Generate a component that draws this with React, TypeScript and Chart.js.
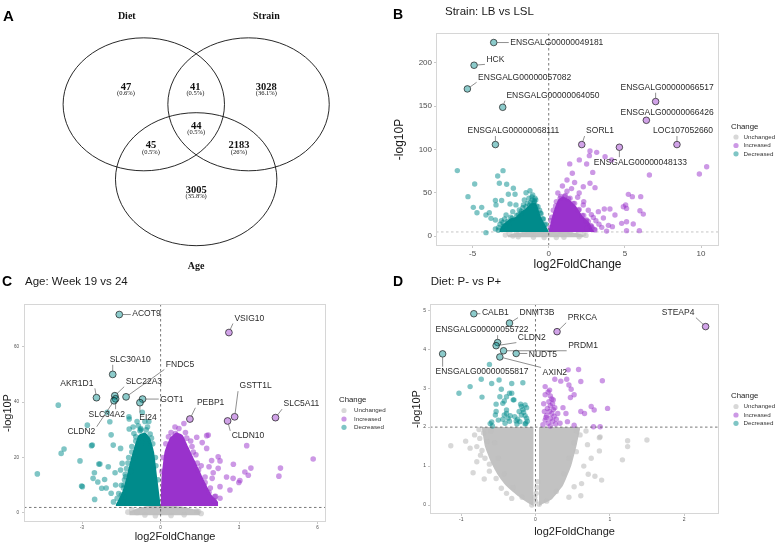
import React, { useEffect, useRef } from 'react';
import { Chart, registerables } from 'chart.js';
Chart.register(...registerables);

type Pt = [number, number];
const SANS = '"Liberation Sans", Arial, Helvetica, sans-serif';
const SERIF = '"Liberation Serif", "Times New Roman", serif';

// ---------------- Panel A : Venn ----------------
const VENN_SETS = ['Diet', 'Strain', 'Age'];
const VENN_COUNTS = [47, 41, 3028, 44, 45, 2183, 3005];
const VENN_PCTS = ['(0.6%)', '(0.5%)', '(36.1%)', '(0.5%)', '(0.5%)', '(26%)', '(35.8%)'];
// geometry in unit space
const VENN_CX = [-0.649, 0.649, 0];
const VENN_CY = [0.563, 0.563, -0.563];
const VENN_R = 1;
const VENN_REGION_X = [-0.87, -0.01, 0.87, 0, -0.56, 0.53, 0];
const VENN_REGION_Y = [0.82, 0.82, 0.82, 0.24, -0.06, -0.06, -0.73];
const VENN_SET_LX = [-0.86, 0.87, 0];
const VENN_SET_LY = [1.88, 1.88, -1.87];

// ---------------- Panel B : Strain ----------------
const B_XTICKS = [-5, 0, 5, 10];
const B_YTICKS = [0, 50, 100, 150, 200];
const B_THRESHOLD = 5;
const B_GREY: Pt[] = [[-2.85, 1.5], [-2.6, 3.2], [-2.35, 0.4], [-2.1, 4.6], [-1.6, 5.6], [-1.0, 6.2], [-0.4, 6.8], [0.3, 7], [0.8, 6], [1.4, 5], [1.95, 4.2], [2.3, 2.6], [2.45, 1.0], [2.0, -0.5], [1.0, -1.2], [-1.0, -1.2], [-2.0, -0.6], [-0.3, -1.5], [0.5, -1.4]];
const B_GREY_CORE: Pt[] = [[-2.7, 1.5], [-2.2, 3.6], [-1.2, 5.2], [0, 6.2], [1.0, 5.2], [1.8, 3.8], [2.3, 1.5]];
const B_DEC: Pt[] = [[-6.0, 75.8], [-4.86, 60.3], [-5.30, 45.7], [-4.95, 33.4], [-4.71, 27.2], [-4.40, 33.4], [-4.12, 24.6], [-3.90, 27.2], [-3.35, 69.6], [-3.00, 75.7], [-3.24, 61.1], [-2.76, 60.0], [-2.32, 55.4], [-2.65, 48.5], [-2.21, 48.5], [-3.50, 41.2], [-3.09, 41.2], [-3.46, 36.2], [-2.54, 37.3], [-2.15, 36.2], [-1.93, 30.4], [-1.49, 50.3], [-1.23, 52.6], [-1.05, 47.6], [-0.94, 39.9], [-1.60, 41.8], [-1.66, 36.2], [-4.12, 4.2], [-3.50, 8.4], [-3.79, 20.7], [-3.50, 18.8], [-3.11, 18.0], [-2.80, 24.6], [-2.36, 28.4], [-1.82, 26.5], [-1.3, 44], [-1.1, 42], [-0.9, 44], [-0.8, 35], [-0.6, 30], [-0.5, 26], [-0.35, 20], [-0.2, 14], [-1.4, 38], [-1.7, 33], [-2.0, 25], [-2.5, 22], [-2.9, 20], [-3.2, 14], [-3.3, 10], [-2.9, 12], [-2.6, 15], [-3.0, 16], [-1.25, 36], [-1.0, 38], [-3.3, 7], [-3.0, 12], [-2.7, 17], [-2.4, 21], [-2.1, 24], [-1.8, 29], [-1.5, 34], [-1.2, 39], [-0.95, 41], [-0.7, 34], [-0.55, 27], [-0.4, 20], [-0.25, 13], [-1.1, 45.5], [-0.85, 42]];
const B_DEC_CORE: Pt[] = [[-3.25, 6], [-3.13, 11], [-2.8, 16.8], [-2.48, 20.7], [-2.15, 22.6], [-1.82, 28.4], [-1.49, 32.3], [-1.16, 38], [-0.83, 38], [-0.51, 22.6], [0, 6]];
const B_INC: Pt[] = [[2.71, 98.4], [3.15, 96.8], [2.67, 93.0], [3.70, 91.8], [4.13, 88], [2.49, 83.4], [2.89, 73.7], [6.61, 70.7], [9.89, 71.9], [10.37, 80.3], [2.71, 61.1], [3.04, 56.1], [2.27, 57.2], [5.23, 48.4], [5.49, 45.7], [6.04, 45.7], [4.90, 34.1], [5.05, 36.1], [5.11, 32.2], [5.99, 29.5], [6.21, 25.6], [4.02, 31.4], [3.65, 31.4], [4.35, 24.5], [3.26, 28.4], [2.93, 21.8], [3.59, 21.1], [4.79, 14.9], [5.11, 16.8], [5.55, 14.1], [3.92, 12.6], [4.18, 11.1], [5.11, 6.5], [5.95, 6.5], [3.48, 10.3], [3.04, 7.2], [2.49, 18.8], [2.27, 36.1], [1.38, 83.5], [2.01, 88.1], [1.55, 72.7], [1.2, 65], [1.7, 62], [1.5, 55], [0.9, 58], [1.2, 52], [2.0, 50], [0.6, 50], [1.9, 45], [2.3, 40], [2.6, 30], [2.8, 25], [3.1, 18], [3.3, 14], [2.8, 12], [2.5, 9], [3.8, 6], [0.3, 30], [0.5, 40], [0.8, 46], [1.1, 47], [1.4, 44], [1.7, 38], [2.0, 31], [2.3, 24], [2.6, 17], [2.85, 10], [0.15, 18], [0.1, 10], [0.2, 22], [0.45, 35], [0.75, 44], [1.05, 46], [1.3, 43], [1.6, 38], [1.95, 30], [2.2, 24], [2.45, 18], [2.75, 12], [3.0, 8]];
const B_INC_CORE: Pt[] = [[0, 6], [0.28, 26.5], [0.61, 41.9], [0.94, 45.8], [1.38, 41.9], [1.82, 34.2], [2.25, 22.7], [2.69, 15], [2.91, 7.3], [3.0, 6]];
const B_LAB_NAMES = ['ENSGALG00000049181', 'HCK', 'ENSGALG00000057082', 'ENSGALG00000064050', 'ENSGALG00000068111', 'SORL1', 'ENSGALG00000048133', 'ENSGALG00000066517', 'ENSGALG00000066426', 'LOC107052660'];
const B_LAB_X = [-3.61, -4.90, -5.34, -3.02, -3.50, 2.17, 4.64, 7.02, 6.41, 8.42];
const B_LAB_Y = [223.5, 197.3, 170.0, 148.8, 105.8, 105.8, 102.7, 155.4, 133.8, 105.8];
const B_LAB_CHANGE = ['Decreased', 'Decreased', 'Decreased', 'Decreased', 'Decreased', 'Increased', 'Increased', 'Increased', 'Increased', 'Increased'];
const B_TXT_X = [0.53, -3.50, -1.58, 0.28, -2.32, 3.37, 6.02, 7.77, 7.77, 8.82];
const B_TXT_Y = [223.5, 204.2, 183.5, 162.3, 121.5, 121.5, 85.4, 171.5, 143.1, 121.5];

// ---------------- Panel C : Age ----------------
const C_XTICKS = [-3, 0, 3, 6];
const C_YTICKS = [0, 20, 40, 60];
const C_THRESHOLD = 2;
const C_GREY: Pt[] = [[-1.25, 0.3], [-1.1, 1.2], [1.45, 0.5], [1.55, -0.2], [0.9, -0.6], [-0.6, -0.7], [1.38, 0.7], [-0.9, 0.2], [0.4, -0.9], [-0.2, -1.0]];
const C_GREY_CORE: Pt[] = [[-1.2, 0.5], [-0.8, 2], [0, 3], [0.8, 2.3], [1.5, 0.8]];
const C_DEC: Pt[] = [[-3.91, 38.9], [-3.69, 23.1], [-3.80, 21.5], [-4.71, 14.1], [-3.08, 18.8], [-3.02, 9.7], [-2.61, 24.5], [-2.80, 31.7], [-2.32, 17.7], [-1.89, 28.2], [-1.81, 24.5], [-1.53, 23.3], [-2.53, 14.5], [-2.58, 12.5], [-2.40, 11.2], [-2.14, 12.1], [-2.08, 9.0], [-2.25, 8.9], [-2.99, 9.5], [-2.52, 4.9], [-1.74, 14.5], [-1.72, 10.1], [-1.66, 5.3], [-1.89, 7.1], [-1.40, 5.9], [-1.40, 10.1], [-1.34, 13.1], [-1.21, 34.7], [-0.90, 33.0], [-1.02, 28.7], [-0.76, 30.5], [-1.47, 17.9], [-1.53, 15.5], [-2.04, 36.3], [-1.94, 32.9], [-1.20, 33.9], [-1.20, 30.3], [-0.79, 29.7], [-0.70, 36.3], [-2.0, 16.7], [-2.64, 24.3], [-2.36, 17.7], [-0.5, 31], [-0.35, 27], [-0.2, 20], [-0.1, 12], [-0.95, 26], [-1.1, 22], [-1.25, 18], [-1.35, 14], [-1.5, 10], [-1.6, 7], [-1.8, 4], [-0.7, 27], [-0.55, 25], [-1.0, 20], [-1.15, 15], [-0.45, 33], [-0.85, 31.5], [-1.45, 4], [-1.5, 6.5], [-1.42, 9], [-1.38, 12], [-1.3, 16], [-1.22, 20], [-1.1, 24], [-0.95, 27.5], [-0.75, 30], [-0.55, 30], [-0.4, 28.5], [-0.3, 25], [-0.18, 17], [-1.05, 31], [-0.6, 33]];
const C_DEC_CORE: Pt[] = [[-1.72, 3], [-1.6, 5], [-1.45, 8], [-1.3, 13], [-1.15, 19], [-1.0, 24], [-0.85, 28], [-0.6, 29], [-0.4, 27], [-0.25, 22], [-0.12, 12], [0, 3]];
const C_INC: Pt[] = [[0.89, 32.3], [0.57, 28.7], [1.82, 28.1], [1.38, 27.3], [1.59, 25.4], [1.76, 23.3], [3.29, 24.3], [5.83, 19.5], [1.95, 18.9], [2.27, 18.8], [2.20, 20.3], [2.78, 17.6], [1.85, 16.7], [2.20, 16.1], [3.45, 16.2], [3.22, 14.8], [3.35, 13.6], [4.58, 16.2], [4.52, 13.3], [2.01, 14.5], [2.52, 13.0], [2.77, 12.5], [3.03, 11.7], [2.99, 11.0], [1.97, 12.5], [2.27, 9.5], [2.65, 8.3], [2.07, 5.9], [2.27, 5.3], [1.76, 27.9], [1.15, 26], [1.35, 21], [1.55, 17], [1.7, 13], [1.9, 9], [2.1, 6], [1.2, 24], [0.95, 29], [0.4, 29], [0.2, 25], [0.05, 15], [1.65, 10], [1.4, 18], [0.1, 20], [0.3, 27.5], [0.7, 30.5], [1.0, 27], [1.25, 22], [1.45, 15.5], [1.7, 11], [1.85, 7.5], [2.05, 4.5], [0.55, 31]];
const C_INC_CORE: Pt[] = [[0, 3], [0.03, 12], [0.15, 22], [0.35, 27], [0.6, 29], [0.85, 28], [1.05, 24], [1.3, 19], [1.55, 14], [1.75, 10], [1.95, 6.5], [2.2, 4]];
const C_LAB_NAMES = ['ACOT9', 'VSIG10', 'SLC30A10', 'FNDC5', 'AKR1D1', 'SLC22A3', 'GOT1', 'EI24', 'SLC34A2', 'CLDN2', 'PEBP1', 'GSTT1L', 'CLDN10', 'SLC5A11'];
const C_LAB_X = [-1.58, 2.61, -1.83, -1.32, -2.45, -1.75, -0.69, -0.79, -1.72, -1.78, 1.12, 2.83, 2.56, 4.39];
const C_LAB_Y = [71.6, 65.1, 50.0, 41.9, 41.6, 42.3, 41.1, 39.8, 41.2, 40.5, 33.9, 34.7, 33.2, 34.4];
const C_LAB_CHANGE = ['Decreased', 'Increased', 'Decreased', 'Decreased', 'Decreased', 'Decreased', 'Decreased', 'Decreased', 'Decreased', 'Decreased', 'Increased', 'Increased', 'Increased', 'Increased'];
const C_TXT_X = [-0.54, 3.39, -1.16, 0.74, -3.20, -0.64, 0.43, -0.48, -2.06, -3.03, 1.91, 3.63, 3.34, 5.38];
const C_TXT_Y = [71.8, 70.2, 55.3, 53.6, 46.8, 47.4, 41.0, 34.4, 35.6, 29.3, 39.8, 45.8, 27.8, 39.3];

// ---------------- Panel D : Diet ----------------
const D_XTICKS = [-1, 0, 1, 2];
const D_YTICKS = [0, 1, 2, 3, 4, 5];
const D_THRESHOLD = 2;
const D_GREY: Pt[] = [[-1.14, 1.52], [-0.94, 1.64], [-0.84, 0.83], [-0.76, 1.94], [-0.82, 1.80], [-0.88, 1.46], [-0.79, 1.50], [-0.74, 1.28], [-0.68, 1.20], [-0.62, 0.87], [-0.69, 0.67], [-0.53, 0.68], [-0.46, 0.43], [-0.39, 0.30], [-0.32, 0.17], [-0.65, 1.63], [-0.75, 1.71], [-0.79, 1.11], [0.86, 1.73], [1.24, 1.65], [1.50, 1.67], [1.24, 1.50], [1.17, 1.16], [0.89, 0.64], [0.61, 0.24], [0.80, 0.74], [0.71, 0.79], [0.52, 0.47], [0.55, 1.37], [0.87, 1.75], [0.86, 1.39], [0.65, 1.0], [0.6, 1.8], [0.7, 1.55], [0.62, 0.55], [0.45, 0.2], [0.68, 1.9], [0.75, 1.2], [-0.6, 1.9], [-0.55, 1.6], [-0.5, 1.2], [-0.42, 0.8], [-0.3, 0.45], [-0.18, 0.2], [-0.05, 0.0], [-0.7, 1.85], [-0.72, 1.4], [-0.62, 1.05], [0.55, 1.9], [0.52, 1.6], [0.45, 1.2], [0.38, 0.8], [0.28, 0.35], [0.15, 0.1], [0.05, 0.02], [0.0, 0.1], [0.01, 0.3], [0.02, 0.45], [-0.01, 0.2], [0.03, 0.6]];
const D_GREY_CORE_LEFT: Pt[] = [[-0.72, 1.95], [-0.68, 1.5], [-0.6, 1.1], [-0.5, 0.75], [-0.4, 0.5], [-0.25, 0.25], [-0.1, 0.05], [-0.025, -0.03]];
const D_GREY_CORE_RIGHT: Pt[] = [[0.045, -0.03], [0.1, 0.03], [0.22, 0.15], [0.37, 0.5], [0.48, 1.0], [0.55, 1.5], [0.6, 1.95]];
const D_DEC: Pt[] = [[-1.03, 2.87], [-0.88, 3.04], [-0.73, 3.23], [-0.62, 3.61], [-0.59, 3.12], [-0.49, 3.21], [-0.32, 3.12], [-0.17, 3.14], [-0.72, 2.77], [-0.53, 2.59], [-0.42, 2.67], [-0.32, 2.87], [-0.29, 2.70], [-0.20, 2.59], [-0.19, 2.53], [-0.14, 2.57], [-0.53, 2.40], [-0.54, 2.31], [-0.59, 2.13], [-0.61, 2.09], [-0.42, 2.31], [-0.39, 2.44], [-0.34, 2.29], [-0.26, 2.16], [-0.21, 2.14], [-0.14, 2.29], [-0.13, 2.10], [-0.41, 2.10], [-0.50, 2.18], [-0.39, 2.35], [-0.37, 2.23], [-0.28, 2.27], [-0.19, 2.31], [-0.12, 2.23], [-0.25, 2.08], [-0.14, 2.08], [-0.44, 2.61], [-0.48, 2.78], [-0.39, 2.78], [-0.35, 2.87], [-0.46, 2.97], [-0.30, 2.70], [-0.17, 2.45], [-0.22, 2.40], [-0.16, 2.38], [-0.12, 2.50], [-0.35, 2.15], [-0.44, 2.20], [-0.58, 2.03], [-0.24, 2.2], [-0.11, 2.15]];
const D_INC: Pt[] = [[0.44, 3.47], [0.58, 3.48], [0.26, 3.23], [0.34, 3.18], [0.42, 3.23], [0.61, 3.17], [0.90, 3.19], [0.13, 3.04], [0.19, 2.95], [0.45, 3.08], [0.48, 2.97], [0.52, 2.83], [0.47, 2.76], [0.13, 2.83], [0.75, 2.53], [0.61, 2.40], [0.66, 2.35], [0.79, 2.44], [0.97, 2.48], [0.41, 2.35], [0.43, 2.14], [0.52, 2.05], [0.78, 2.01], [0.87, 2.01], [0.17, 2.9], [0.2, 2.8], [0.22, 2.72], [0.18, 2.65], [0.23, 2.6], [0.2, 2.55], [0.16, 2.48], [0.24, 2.45], [0.19, 2.4], [0.22, 2.35], [0.15, 2.3], [0.25, 2.28], [0.2, 2.22], [0.13, 2.18], [0.23, 2.15], [0.17, 2.1], [0.27, 2.08], [0.1, 2.06], [0.2, 2.03], [0.14, 2.25], [0.26, 2.5], [0.12, 2.4], [0.24, 2.7], [0.28, 2.2], [0.3, 2.35], [0.33, 2.1], [0.11, 2.6], [0.37, 2.5]];
const D_LAB_NAMES = ['CALB1', 'DNMT3B', 'PRKCA', 'STEAP4', 'ENSGALG00000055722', 'CLDN2', 'PRDM1', 'NUDT5', 'AXIN2', 'ENSGALG00000055817'];
const D_LAB_X = [-0.83, -0.35, 0.29, 2.29, -0.51, -0.53, -0.43, -0.26, -0.48, -1.25];
const D_LAB_Y = [4.91, 4.67, 4.45, 4.58, 4.17, 4.09, 3.96, 3.89, 3.80, 3.88];
const D_LAB_CHANGE = ['Decreased', 'Decreased', 'Increased', 'Increased', 'Decreased', 'Decreased', 'Decreased', 'Decreased', 'Decreased', 'Decreased'];
const D_TXT_X = [-0.54, 0.02, 0.63, 1.92, -0.72, -0.05, 0.64, 0.10, 0.26, -0.72];
const D_TXT_Y = [4.94, 4.94, 4.81, 4.94, 4.49, 4.30, 4.08, 3.85, 3.40, 3.42];

// ---------------- styles ----------------
const TEAL = 'rgba(0,139,139,0.5)';
const TEAL_CORE = 'rgb(0,139,139)';
const PURP = 'rgba(153,50,204,0.5)';
const PURP_CORE = 'rgb(153,50,204)';
const GREY = 'rgba(190,190,190,0.6)';
const GREY_CORE = 'rgb(194,194,194)';
const TEAL_LAB = 'rgba(0,139,139,0.45)';
const PURP_LAB = 'rgba(153,50,204,0.45)';

const xy = (a: Pt[]) => a.map(([x, y]) => ({ x, y }));

function makeVenn(canvas: HTMLCanvasElement) {
  const plugin = {
    id: 'venn',
    afterDraw(chart: any) {
      const { ctx } = chart;
      const x = chart.scales.x, y = chart.scales.y;
      ctx.save();
      ctx.fillStyle = '#000';
      ctx.font = `bold 15px ${SANS}`;
      ctx.textAlign = 'left';
      ctx.textBaseline = 'middle';
      ctx.fillText('A', 3, 17);
      ctx.strokeStyle = '#111';
      ctx.lineWidth = 0.9;
      VENN_CX.forEach((cx, i) => {
        const px = x.getPixelForValue(cx), py = y.getPixelForValue(VENN_CY[i]);
        const rx = Math.abs(x.getPixelForValue(cx + VENN_R) - px);
        const ry = Math.abs(y.getPixelForValue(VENN_CY[i] + VENN_R) - py);
        ctx.beginPath();
        ctx.ellipse(px, py, rx, ry, 0, 0, Math.PI * 2);
        ctx.stroke();
      });
      ctx.textAlign = 'center';
      ctx.fillStyle = '#111';
      ctx.font = `bold 10px ${SERIF}`;
      VENN_SETS.forEach((s, i) => ctx.fillText(s, x.getPixelForValue(VENN_SET_LX[i]), y.getPixelForValue(VENN_SET_LY[i])));
      VENN_COUNTS.forEach((n, i) => {
        const px = x.getPixelForValue(VENN_REGION_X[i]), py = y.getPixelForValue(VENN_REGION_Y[i]);
        ctx.font = `bold 10.5px ${SERIF}`;
        ctx.fillText(String(n), px, py);
        ctx.font = `6.5px ${SERIF}`;
        ctx.fillText(VENN_PCTS[i], px, py + 6.5);
      });
      ctx.restore();
    },
  };
  return new Chart(canvas, {
    type: 'scatter',
    data: { datasets: [] },
    options: {
      animation: false, responsive: false, events: [],
      layout: { padding: 0 },
      plugins: { legend: { display: false }, tooltip: { enabled: false } },
      scales: {
        x: { type: 'linear', display: false, min: -2.431, max: 2.402 },
        y: { type: 'linear', display: false, min: -2.004, max: 2.132 },
      },
    } as any,
    plugins: [plugin],
  });
}

function makeVolcano(canvas: HTMLCanvasElement, p: any) {
  const idx = p.names.map((_: any, i: number) => i);
  const decIdx = idx.filter((i: number) => p.change[i] === 'Decreased');
  const incIdx = idx.filter((i: number) => p.change[i] === 'Increased');
  const labPts = (ids: number[]) => ids.map((i) => ({ x: p.px[i], y: p.py[i] }));
  const scatter = (data: any[], color: string, order: number, r: number, border = false) => ({
    type: 'scatter', data, order, showLine: false,
    pointRadius: r, pointHoverRadius: r, pointBackgroundColor: color,
    pointBorderColor: border ? '#1a1a1a' : 'rgba(0,0,0,0)', pointBorderWidth: border ? 0.7 : 0,
  });
  const core = (data: any[], base: number, color: string, order: number) => ({
    type: 'line', data, order, showLine: true, fill: { value: base },
    backgroundColor: color, borderColor: 'rgba(0,0,0,0)', borderWidth: 0, pointRadius: 0, tension: 0.15,
  });
  const datasets: any[] = [
    scatter(labPts(incIdx), PURP_LAB, 0, p.r + 0.6, true),
    scatter(labPts(decIdx), TEAL_LAB, 1, p.r + 0.6, true),
    scatter(xy(p.inc), PURP, 2, p.r),
    core(xy(p.incCore), p.incBase, PURP_CORE, 3),
    scatter(xy(p.dec), TEAL, 4, p.r),
    core(xy(p.decCore), p.decBase, TEAL_CORE, 5),
    scatter(xy(p.grey), GREY, 6, p.r),
    ...p.greyCores.map((c: Pt[], k: number) => core(xy(c), p.greyBase, GREY_CORE, 7 + k)),
  ];

  const hLine = (chart: any) => {
    const { ctx, chartArea: a } = chart;
    const yy = chart.scales.y.getPixelForValue(p.hline);
    ctx.save();
    ctx.strokeStyle = p.hlineColor;
    ctx.lineWidth = 0.8;
    ctx.setLineDash([2.5, 2.5]);
    ctx.beginPath();
    ctx.moveTo(a.left, yy);
    ctx.lineTo(a.right, yy);
    ctx.stroke();
    ctx.restore();
  };

  const plugin = {
    id: 'volcano' + p.letter,
    beforeDatasetsDraw(chart: any) {
      if (p.hlineBehind) hLine(chart);
    },
    afterDatasetsDraw(chart: any) {
      const { ctx, chartArea: a } = chart;
      const x = chart.scales.x, y = chart.scales.y;
      if (!p.hlineBehind) hLine(chart);
      const x0 = x.getPixelForValue(0);
      ctx.save();
      ctx.strokeStyle = '#555';
      ctx.lineWidth = 0.8;
      ctx.setLineDash([2.5, 2.5]);
      ctx.beginPath();
      ctx.moveTo(x0, a.top);
      ctx.lineTo(x0, a.bottom);
      ctx.stroke();
      ctx.setLineDash([]);
      ctx.strokeStyle = '#d6d6d6';
      ctx.lineWidth = 1;
      ctx.strokeRect(a.left + 0.5, a.top + 0.5, a.right - a.left - 1, a.bottom - a.top - 1);
      // labels
      ctx.font = `${p.labelSize}px ${SANS}`;
      ctx.textAlign = 'center';
      ctx.textBaseline = 'middle';
      p.names.forEach((name: string, i: number) => {
        const ppx = x.getPixelForValue(p.px[i]), ppy = y.getPixelForValue(p.py[i]);
        const cx = x.getPixelForValue(p.tx[i]), cy = y.getPixelForValue(p.ty[i]);
        const hw = ctx.measureText(name).width / 2 + 1.5, hh = p.labelSize * 0.6;
        const ex = Math.min(Math.max(ppx, cx - hw), cx + hw);
        const ey = Math.min(Math.max(ppy, cy - hh), cy + hh);
        const dx = ex - ppx, dy = ey - ppy, dd = Math.hypot(dx, dy);
        const rr = p.r + 0.6;
        if (dd > rr + 2) {
          ctx.strokeStyle = '#444';
          ctx.lineWidth = 0.6;
          ctx.beginPath();
          ctx.moveTo(ppx + (dx / dd) * rr, ppy + (dy / dd) * rr);
          ctx.lineTo(ex, ey);
          ctx.stroke();
        }
        ctx.fillStyle = '#2b2b2b';
        ctx.fillText(name, cx, cy);
      });
      ctx.restore();
    },
    afterDraw(chart: any) {
      const { ctx, chartArea: a } = chart;
      ctx.save();
      ctx.textBaseline = 'middle';
      ctx.textAlign = 'left';
      ctx.fillStyle = '#000';
      ctx.font = `bold 14px ${SANS}`;
      ctx.fillText(p.letter, p.letterX, p.letterY);
      ctx.fillStyle = '#1a1a1a';
      ctx.font = `${p.titleSize}px ${SANS}`;
      ctx.fillText(p.title, p.titleX, p.titleY);
      // legend
      const cy = (a.top + a.bottom) / 2;
      const lx = a.right + 12 + p.legendDX;
      ctx.font = `7.8px ${SANS}`;
      ctx.fillStyle = '#1a1a1a';
      ctx.fillText('Change', lx, cy - 13);
      const items: [string, string][] = [['Unchanged', GREY], ['Increased', PURP], ['Decreased', TEAL]];
      const offs = [-2.5, 6, 14.3];
      ctx.font = `6.2px ${SANS}`;
      items.forEach(([t, col], i) => {
        ctx.fillStyle = col;
        ctx.beginPath();
        ctx.arc(lx + 5, cy + offs[i], 2.6, 0, Math.PI * 2);
        ctx.fill();
        ctx.fillStyle = '#333';
        ctx.fillText(t, lx + 12.5 + p.legendTextDX, cy + offs[i]);
      });
      ctx.restore();
    },
  };

  const tickFont = { family: SANS, size: p.tickSize };
  const titleFont = { family: SANS, size: p.axisTitleSize };
  return new Chart(canvas, {
    type: 'scatter',
    data: { datasets },
    options: {
      animation: false, responsive: false, events: [],
      layout: { padding: { left: 0, top: p.plotT, right: p.w - p.plotR, bottom: 0 } },
      plugins: { legend: { display: false }, tooltip: { enabled: false }, title: { display: false } },
      scales: {
        x: {
          type: 'linear', min: p.xMin, max: p.xMax,
          afterBuildTicks: (s: any) => { s.ticks = p.xTicks.map((v: number) => ({ value: v })); },
          afterFit: (s: any) => { s.height = p.h - p.plotB; },
          grid: { display: true, drawOnChartArea: false, drawTicks: true, tickLength: 2, color: '#c8c8c8' },
          border: { display: false },
          ticks: { font: tickFont, color: '#4d4d4d', padding: 1, maxRotation: 0, autoSkip: false },
          title: { display: true, text: 'log2FoldChange', font: titleFont, color: '#1a1a1a', padding: { top: 0, bottom: p.xTitlePad } },
        },
        y: {
          type: 'linear', min: p.yMin, max: p.yMax,
          afterBuildTicks: (s: any) => { s.ticks = p.yTicks.map((v: number) => ({ value: v })); },
          afterFit: (s: any) => { s.width = p.plotL; },
          grid: { display: true, drawOnChartArea: false, drawTicks: true, tickLength: 2, color: '#c8c8c8' },
          border: { display: false },
          ticks: { font: tickFont, color: '#4d4d4d', padding: p.yTickPad, autoSkip: false },
          title: { display: true, text: '-log10P', font: titleFont, color: '#1a1a1a', padding: { top: p.yTitlePad, bottom: 0 } },
        },
      },
    } as any,
    plugins: [plugin],
  });
}

const PANEL_B = {
  letter: 'B', title: 'Strain: LB vs LSL',
  xMin: -7.4, xMax: 11.18, yMin: -11.2, yMax: 234.5, xTicks: B_XTICKS, yTicks: B_YTICKS,
  grey: B_GREY, greyCores: [B_GREY_CORE], greyBase: -1.2,
  dec: B_DEC, decCore: B_DEC_CORE, decBase: 5, inc: B_INC, incCore: B_INC_CORE, incBase: 5,
  names: B_LAB_NAMES, px: B_LAB_X, py: B_LAB_Y, change: B_LAB_CHANGE, tx: B_TXT_X, ty: B_TXT_Y,
  hline: B_THRESHOLD, hlineColor: '#b8b8b8', hlineBehind: true,
  w: 387, h: 275, plotL: 46, plotT: 33, plotR: 329, plotB: 246,
  tickSize: 8, axisTitleSize: 12, xTitlePad: 2.8, yTitlePad: 2.8, yTickPad: 2,
  letterX: 3, letterY: 15, titleX: 55, titleY: 12, titleSize: 11.5,
  r: 2.7, labelSize: 8.5, legendDX: 0, legendTextDX: 0,
};
const PANEL_C = {
  letter: 'C', title: 'Age: Week 19 vs 24',
  xMin: -5.22, xMax: 6.32, yMin: -3.25, yMax: 75.4, xTicks: C_XTICKS, yTicks: C_YTICKS,
  grey: C_GREY, greyCores: [C_GREY_CORE], greyBase: -0.8,
  dec: C_DEC, decCore: C_DEC_CORE, decBase: 2.5, inc: C_INC, incCore: C_INC_CORE, incBase: 2.5,
  names: C_LAB_NAMES, px: C_LAB_X, py: C_LAB_Y, change: C_LAB_CHANGE, tx: C_TXT_X, ty: C_TXT_Y,
  hline: C_THRESHOLD, hlineColor: '#555', hlineBehind: false,
  w: 390, h: 274, plotL: 24, plotT: 29, plotR: 326, plotB: 247,
  tickSize: 4.5, axisTitleSize: 11, xTitlePad: 5.4, yTitlePad: 1, yTickPad: 3,
  letterX: 2, letterY: 7.5, titleX: 25, titleY: 7, titleSize: 11.5,
  r: 2.8, labelSize: 8.5, legendDX: 1, legendTextDX: 2.5,
};
const PANEL_D = {
  letter: 'D', title: 'Diet: P- vs P+',
  xMin: -1.42, xMax: 2.47, yMin: -0.23, yMax: 5.16, xTicks: D_XTICKS, yTicks: D_YTICKS,
  grey: D_GREY, greyCores: [D_GREY_CORE_LEFT, D_GREY_CORE_RIGHT], greyBase: 2,
  dec: D_DEC, decCore: [], decBase: 2, inc: D_INC, incCore: [], incBase: 2,
  names: D_LAB_NAMES, px: D_LAB_X, py: D_LAB_Y, change: D_LAB_CHANGE, tx: D_TXT_X, ty: D_TXT_Y,
  hline: D_THRESHOLD, hlineColor: '#555', hlineBehind: false,
  w: 387, h: 274, plotL: 40, plotT: 29, plotR: 329, plotB: 239,
  tickSize: 5, axisTitleSize: 11, xTitlePad: 10.4, yTitlePad: 20.4, yTickPad: 2,
  letterX: 3, letterY: 7.5, titleX: 40.7, titleY: 7.3, titleSize: 11.5,
  r: 2.7, labelSize: 8.5, legendDX: 0, legendTextDX: 0,
};

export default function App() {
  const a = useRef<HTMLCanvasElement>(null);
  const b = useRef<HTMLCanvasElement>(null);
  const c = useRef<HTMLCanvasElement>(null);
  const d = useRef<HTMLCanvasElement>(null);
  useEffect(() => {
    const charts = [
      makeVenn(a.current as HTMLCanvasElement),
      makeVolcano(b.current as HTMLCanvasElement, PANEL_B),
      makeVolcano(c.current as HTMLCanvasElement, PANEL_C),
      makeVolcano(d.current as HTMLCanvasElement, PANEL_D),
    ];
    return () => charts.forEach((ch) => ch.destroy());
  }, []);
  const st = (l: number, t: number, w: number, h: number): React.CSSProperties => ({ position: 'absolute', left: l, top: t, width: w, height: h });
  return (
    <div style={{ position: 'fixed', left: 0, top: 0, width: 777, height: 549, background: '#fff', overflow: 'hidden' }}>
      <canvas ref={a} width={390} height={275} style={st(0, 0, 390, 275)} />
      <canvas ref={b} width={387} height={275} style={st(390, 0, 387, 275)} />
      <canvas ref={c} width={390} height={274} style={st(0, 275, 390, 274)} />
      <canvas ref={d} width={387} height={274} style={st(390, 275, 387, 274)} />
    </div>
  );
}
